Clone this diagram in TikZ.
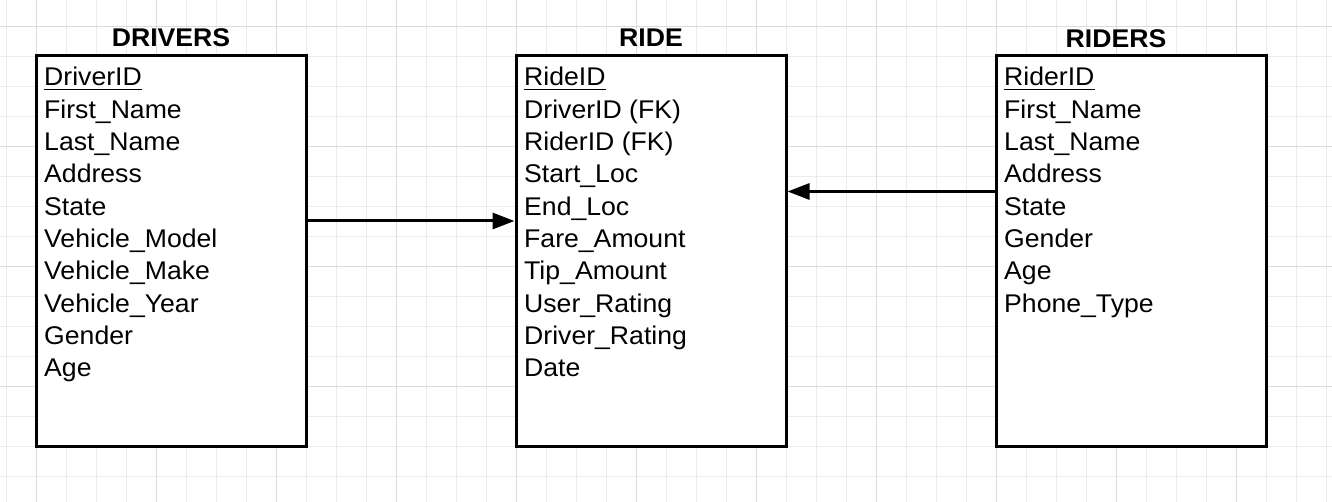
\documentclass[tikz,border=0pt]{standalone}
\usepackage{fontspec}
\setmainfont{Liberation Sans}[FakeStretch=1.04]
\usetikzlibrary{arrows.meta}
\tikzset{
  minorgrid/.style={draw=black!8, line width=0.8pt},
  majorgrid/.style={draw=black!14, line width=0.9pt},
  entity/.style={draw=black, line width=3pt, minimum width=270pt, minimum height=390pt, inner sep=0pt, fill=white},
  ttl/.style={anchor=base, inner sep=0pt, font=\fontsize{25.6}{30}\selectfont\bfseries},
  attr/.style={anchor=base west, inner sep=0pt, font=\fontsize{25.6}{30}\selectfont},
  ulink/.style={line width=1.5pt},
  rel/.style={line width=3pt, -{Triangle[length=22pt,width=16pt]}}
}
\begin{document}
\begin{tikzpicture}[x=1pt,y=-1pt]
\useasboundingbox (0,0) rectangle (1332,502);
\fill[white] (0,0) rectangle (1332,502);
% grid
\foreach \gx in {6,36,...,1326} \draw[minorgrid] (\gx,0) -- (\gx,502);
\foreach \gy in {26,56,...,500} \draw[minorgrid] (0,\gy) -- (1332,\gy);
\foreach \gx in {36,156,...,1300} \draw[majorgrid] (\gx,0) -- (\gx,502);
\foreach \gy in {26,146,266,386} \draw[majorgrid] (0,\gy) -- (1332,\gy);
% entities
\node[entity] (drivers) at (171,251) {};
\node[entity] (ride) at (651,251) {};
\node[entity] (riders) at (1131,251) {};
\node[ttl] (tdrivers) at (171,47) {DRIVERS};
\node[ttl] (tride) at (651,47) {RIDE};
\node[ttl] (triders) at (1116,47.5) {RIDERS};
% attributes
\foreach \t [count=\i] in {DriverID,First\_Name,Last\_Name,Address,State,Vehicle\_Model,Vehicle\_Make,Vehicle\_Year,Gender,Age}
  \node[attr] (d\i) at (44,{86+32.33*(\i-1)}) {\t};
\foreach \t [count=\i] in {RideID,DriverID (FK),RiderID (FK),Start\_Loc,End\_Loc,Fare\_Amount,Tip\_Amount,User\_Rating,Driver\_Rating,Date}
  \node[attr] (m\i) at (524,{86+32.33*(\i-1)}) {\t};
\foreach \t [count=\i] in {RiderID,First\_Name,Last\_Name,Address,State,Gender,Age,Phone\_Type}
  \node[attr] (r\i) at (1004,{86+32.33*(\i-1)}) {\t};
% primary key underlines
\draw[ulink] ([yshift=-3.5pt]d1.base west) -- ([yshift=-3.5pt]d1.base east);
\draw[ulink] ([yshift=-3.5pt]m1.base west) -- ([yshift=-3.5pt]m1.base east);
\draw[ulink] ([yshift=-3.5pt]r1.base west) -- ([yshift=-3.5pt]r1.base east);
% relationships
\draw[rel] ([yshift=30pt]drivers.east) -- ([yshift=30pt]ride.west);
\draw[rel] ([yshift=59.5pt]riders.west) -- ([yshift=59.5pt]ride.east);
\end{tikzpicture}
\end{document}
